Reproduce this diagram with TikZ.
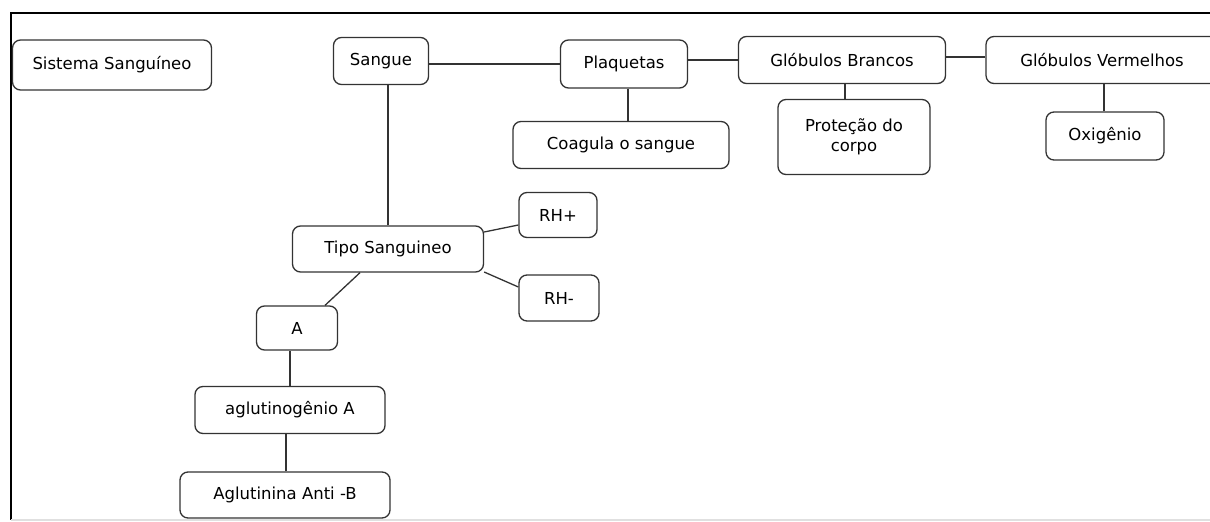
\documentclass[tikz,border=0pt]{standalone}
\usepackage{fontspec}
\setmainfont{DejaVu Sans}
\begin{document}
\begin{tikzpicture}[x=1pt,y=-1pt,
  concept/.style={draw=black!80, line width=1.3pt, rounded corners=8pt, fill=white,
    inner sep=0pt, font=\fontsize{16.5}{19.5}\selectfont, text=black, align=center},
  link/.style={draw=black!80, line width=1.3pt},
  frameline/.style={draw=black, line width=2.2pt}]
\useasboundingbox (0,0) rectangle (1210,522);
\fill[white] (0,0) rectangle (1210,522);

% outer frame
\draw[frameline] (10,13) -- (1210,13);
\draw[frameline] (11,13) -- (11,520);
\draw[black!12, line width=1.2pt] (11,520) -- (1210,520);

% concepts
\node[concept, minimum width=199pt, minimum height=50pt] (sist) at (112,65) {Sistema Sanguíneo};
\node[concept, minimum width=95pt,  minimum height=47pt] (sangue) at (381,61) {Sangue};
\node[concept, minimum width=127pt, minimum height=48pt] (plaq) at (624,64) {Plaquetas};
\node[concept, minimum width=207pt, minimum height=47pt] (brancos) at (842,60) {Glóbulos Brancos};
\node[concept, minimum width=232pt, minimum height=47pt] (verm) at (1102,60) {Glóbulos Vermelhos};
\node[concept, minimum width=216pt, minimum height=47pt] (coag) at (621,145) {Coagula o sangue};
\node[concept, minimum width=152pt, minimum height=75pt] (prot) at (854,137) {Proteção do\\corpo};
\node[concept, minimum width=118pt, minimum height=48pt] (oxi) at (1105,136) {Oxigênio};
\node[concept, minimum width=191pt, minimum height=46pt] (tipo) at (388,249) {Tipo Sanguineo};
\node[concept, minimum width=78pt,  minimum height=45pt] (rhp) at (558,215) {RH+};
\node[concept, minimum width=80pt,  minimum height=46pt] (rhm) at (559,298) {RH-};
\node[concept, minimum width=81pt,  minimum height=44pt] (a) at (297,328) {A};
\node[concept, minimum width=190pt, minimum height=47pt] (aglgen) at (290,410) {aglutinogênio A};
\node[concept, minimum width=210pt, minimum height=46pt] (aglina) at (285,495) {Aglutinina Anti -B};

% connectors
\draw[link] ([yshift=-3pt]sangue.east) -- ([yshift=-3pt]sangue.east -| plaq.west);
\draw[link] ([yshift=4pt]plaq.east) -- ([yshift=4pt]plaq.east -| brancos.west);
\draw[link] ([yshift=3pt]brancos.east) -- ([yshift=3pt]verm.west);
\draw[link] ([xshift=4pt]plaq.south) -- ([xshift=4pt]plaq.south |- coag.north);
\draw[link] ([xshift=3pt]brancos.south) -- ([xshift=3pt]brancos.south |- prot.north);
\draw[link] ([xshift=-1pt]oxi.north) -- ([xshift=-1pt]oxi.north |- verm.south);
\draw[link] (tipo.north) -- (tipo.north |- sangue.south);
\draw[link] ([yshift=17pt]tipo.east) -- ([yshift=-10pt]rhp.west);
\draw[link] ([yshift=-23pt]tipo.east) -- ([yshift=11pt]rhm.west);
\draw[link] ([xshift=-28pt]tipo.south) -- ([xshift=28pt]a.north);
\draw[link] (aglgen.north) -- (aglgen.north |- a.south);
\draw[link] ([xshift=1pt]aglina.north) -- ([xshift=1pt]aglina.north |- aglgen.south);
\end{tikzpicture}
\end{document}
